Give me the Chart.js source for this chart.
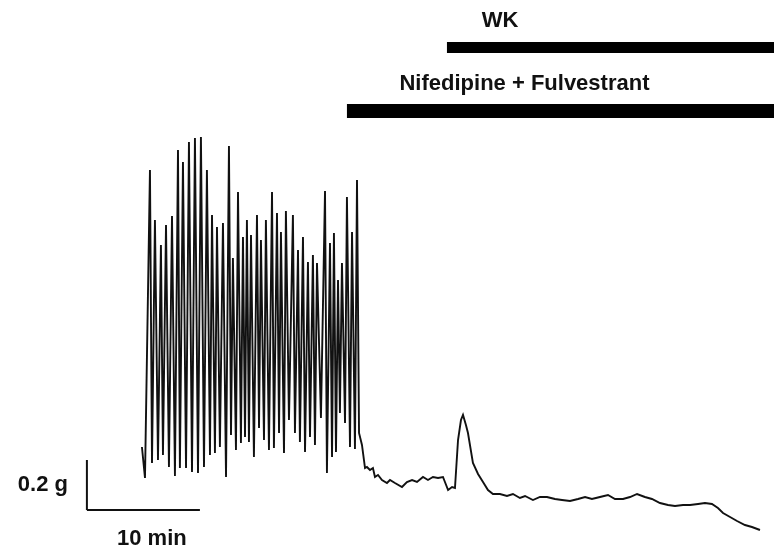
<!DOCTYPE html>
<html>
<head>
<meta charset="utf-8">
<script src="https://cdn.jsdelivr.net/npm/chart.js@4.4.1/dist/chart.umd.min.js"></script>
<style>
  html, body { margin: 0; padding: 0; background: #ffffff; }
  #wrap { width: 774px; height: 553px; }
</style>
</head>
<body>
<div id="wrap"><canvas id="trace" width="774" height="553"></canvas></div>
<script>
// ---------------------------------------------------------------
// Data: tension (g) vs time (min), read from the recording
// ---------------------------------------------------------------

// phasic contractions before the drugs (start of trace)
const startPoint = { t: -0.09, g: 0.252 };

const troughTimes = [0.18, 0.80, 1.33, 1.77, 2.30, 2.83, 3.27, 3.81, 4.34, 4.87,
  5.40, 5.93, 6.37, 6.81, 7.35, 7.79, 8.23, 8.67, 9.03, 9.38,
  9.82, 10.27, 10.71, 11.15, 11.59, 12.04, 12.48, 12.92, 13.45, 13.89,
  14.34, 14.78, 15.22, 15.75, 16.28, 16.73, 17.08, 17.43, 17.88, 18.32,
  18.76, 19.12];
const troughForce = [0.128, 0.188, 0.200, 0.220, 0.172, 0.136, 0.168, 0.168, 0.152, 0.148,
  0.172, 0.220, 0.228, 0.252, 0.132, 0.300, 0.240, 0.268, 0.292, 0.272,
  0.212, 0.328, 0.280, 0.240, 0.248, 0.308, 0.228, 0.360, 0.308, 0.272,
  0.232, 0.292, 0.260, 0.368, 0.148, 0.212, 0.232, 0.388, 0.348, 0.252,
  0.244, 0.308];

const peakTimes = [0.62, 1.06, 1.59, 2.04, 2.57, 3.10, 3.54, 4.07, 4.60, 5.13,
  5.66, 6.11, 6.55, 7.08, 7.61, 7.96, 8.41, 8.85, 9.20, 9.56,
  10.09, 10.44, 10.88, 11.42, 11.86, 12.21, 12.65, 13.27, 13.72, 14.16,
  14.60, 15.04, 15.40, 16.11, 16.55, 16.90, 17.26, 17.61, 18.05, 18.50,
  18.94];
const peakForce = [1.360, 1.160, 1.060, 1.140, 1.176, 1.440, 1.392, 1.472, 1.488, 1.492,
  1.360, 1.180, 1.132, 1.148, 1.456, 1.008, 1.272, 1.092, 1.160, 1.100,
  1.180, 1.080, 1.160, 1.272, 1.188, 1.112, 1.196, 1.180, 1.040, 1.092,
  0.992, 1.020, 0.988, 1.276, 1.068, 1.108, 0.920, 0.988, 1.252, 1.112,
  1.320];

// after Nifedipine + Fulvestrant, then WK
const washTimes = [19.38, 19.65, 19.82, 20.09, 20.35, 20.53, 20.80, 21.15, 21.59, 21.86,
  22.30, 22.92, 23.36, 23.81, 24.25, 24.78, 25.22, 25.66, 26.11, 26.55,
  27.00, 27.35, 27.61, 27.88, 28.14, 28.32, 28.58, 28.76, 29.20, 29.65,
  30.09, 30.53, 30.97, 31.59, 32.21, 32.74, 33.36, 33.81, 34.51, 35.13,
  35.75, 36.46, 37.08, 37.79, 38.50, 39.12, 39.73, 40.44, 41.15, 41.77,
  42.48, 43.10, 43.72, 44.42, 45.04, 45.75, 46.46, 47.08, 47.79, 48.41,
  49.12, 49.73, 50.35, 50.88, 51.33, 51.95, 52.57, 53.27, 53.89, 54.60];
const washForce = [0.260, 0.168, 0.172, 0.160, 0.168, 0.132, 0.140, 0.120, 0.108, 0.120,
  0.108, 0.092, 0.112, 0.120, 0.112, 0.132, 0.120, 0.132, 0.128, 0.132,
  0.080, 0.092, 0.088, 0.280, 0.360, 0.380, 0.340, 0.308, 0.188, 0.144,
  0.112, 0.080, 0.064, 0.064, 0.056, 0.064, 0.048, 0.056, 0.040, 0.052,
  0.052, 0.044, 0.040, 0.036, 0.044, 0.052, 0.044, 0.052, 0.060, 0.044,
  0.044, 0.052, 0.064, 0.052, 0.044, 0.028, 0.020, 0.016, 0.020, 0.020,
  0.024, 0.028, 0.024, 0.008, -0.012, -0.028, -0.044, -0.060, -0.068, -0.080];

// drug application bars (start time in min, level in g)
const drugLabels = ['WK', 'Nifedipine + Fulvestrant'];
const drugStart = [26.90, 18.05];
const drugLevel = [1.85, 1.596];

// calibration bars
const scaleBarTime = 10;   // min
const scaleBarForce = 0.2; // g

// ---------------------------------------------------------------
// Build the trace
// ---------------------------------------------------------------
const X_MIN = -12.65, X_MAX = 55.84;
const Y_MIN = -0.172, Y_MAX = 2.04;

let puntosTraza = [{ x: startPoint.t, y: startPoint.g }];
for (let i = 0; i < troughTimes.length; i++) {
    puntosTraza.push({ x: troughTimes[i], y: troughForce[i] });
    if (i < peakTimes.length) {
        puntosTraza.push({ x: peakTimes[i], y: peakForce[i] });
    }
}
washTimes.forEach((t, i) => puntosTraza.push({ x: t, y: washForce[i] }));

const barX = -4.96;
const datasets = [
    {
        data: puntosTraza,
        borderColor: '#111111',
        borderWidth: 1.9,
        pointRadius: 0,
        tension: 0
    },
    {   // vertical 0.2 g bar
        data: [{ x: barX, y: 0 }, { x: barX, y: scaleBarForce }],
        borderColor: '#111111', borderWidth: 2, pointRadius: 0
    },
    {   // horizontal 10 min bar
        data: [{ x: barX, y: 0 }, { x: barX + scaleBarTime, y: 0 }],
        borderColor: '#111111', borderWidth: 2, pointRadius: 0
    },
    {   // WK bar
        data: [{ x: drugStart[0], y: drugLevel[0] }, { x: X_MAX, y: drugLevel[0] }],
        borderColor: '#000000', borderWidth: 11, pointRadius: 0, borderCapStyle: 'butt'
    },
    {   // Nifedipine + Fulvestrant bar
        data: [{ x: drugStart[1], y: drugLevel[1] }, { x: X_MAX, y: drugLevel[1] }],
        borderColor: '#000000', borderWidth: 14, pointRadius: 0, borderCapStyle: 'butt'
    }
];

// text labels drawn on top, anchored in data units
const etiquetas = {
    id: 'etiquetas',
    afterDatasetsDraw(chart) {
        const { ctx, scales: { x, y } } = chart;
        ctx.save();
        ctx.fillStyle = '#111111';
        ctx.font = 'bold 22px "Liberation Sans", Arial, sans-serif';
        ctx.textBaseline = 'alphabetic';

        ctx.textAlign = 'center';
        ctx.fillText(drugLabels[0], x.getPixelForValue(31.6), y.getPixelForValue(1.932));
        ctx.fillText(drugLabels[1], x.getPixelForValue(33.76), y.getPixelForValue(1.68));
        ctx.fillText(scaleBarTime + ' min', x.getPixelForValue(barX + 5.75), y.getPixelForValue(-0.14));

        ctx.textAlign = 'right';
        ctx.fillText(scaleBarForce + ' g', x.getPixelForValue(barX - 1.68), y.getPixelForValue(0.076));
        ctx.restore();
    }
};

new Chart(document.getElementById('trace'), {
    type: 'line',
    data: { datasets: datasets },
    options: {
        responsive: false,
        animation: false,
        layout: { padding: 0 },
        plugins: { legend: { display: false }, tooltip: { enabled: false } },
        scales: {
            x: { type: 'linear', min: X_MIN, max: X_MAX, display: false },
            y: { type: 'linear', min: Y_MIN, max: Y_MAX, display: false }
        }
    },
    plugins: [etiquetas]
});
</script>
</body>
</html>
